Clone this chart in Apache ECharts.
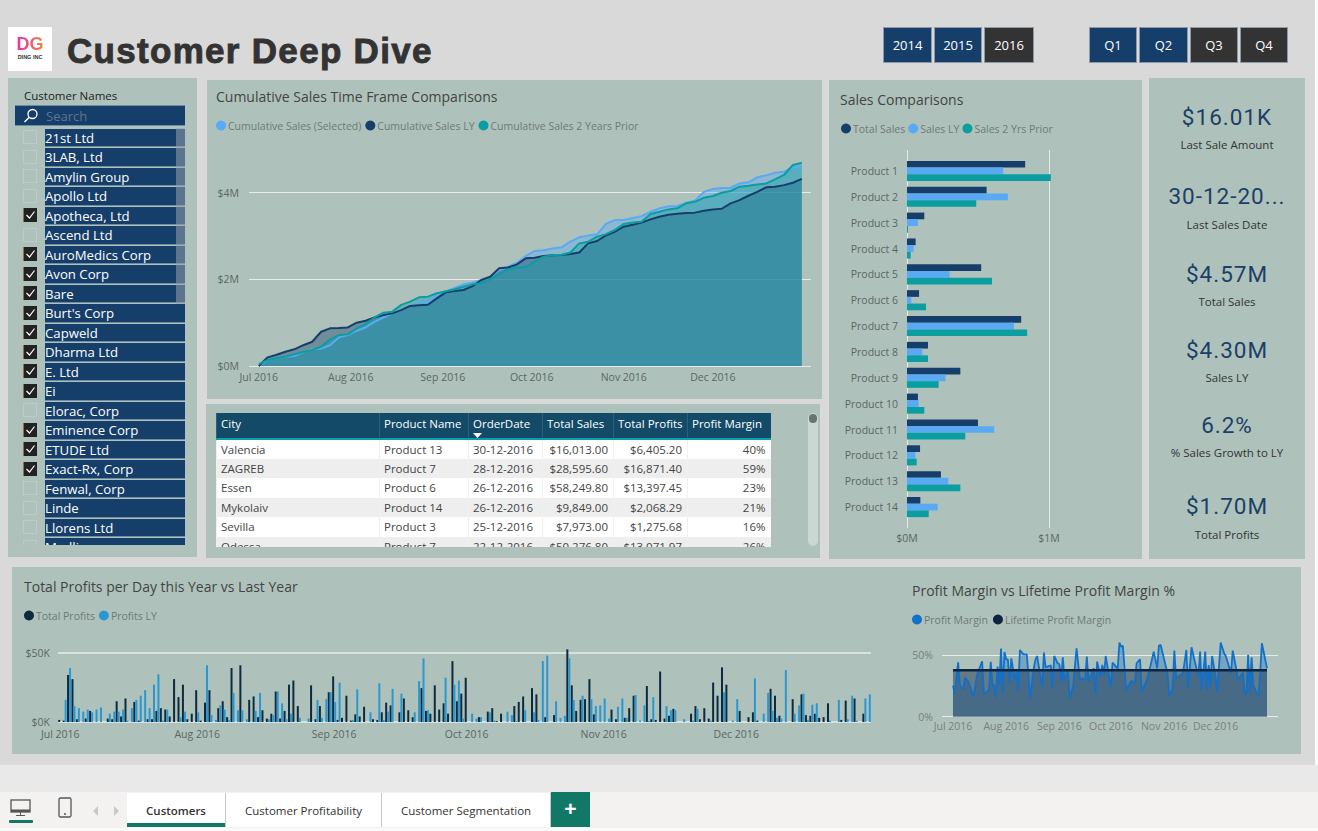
<!DOCTYPE html>
<html><head><meta charset="utf-8"><title>Customer Deep Dive</title>
<script src="https://cdn.jsdelivr.net/npm/echarts@6/dist/echarts.min.js"></script>
<style>
html,body{margin:0;padding:0;width:1318px;height:831px;overflow:hidden;background:#fafafa;font-family:"Open Sans",sans-serif}
.a{position:absolute;box-sizing:border-box}
.panel{background:#aec2bb}
.btn{color:#fff;font-size:13px;display:flex;align-items:center;justify-content:center;border:1px solid #8c9aa8;height:36px;top:27px}
.row{position:absolute;left:45px;width:140px;height:17.5px;background:#163e6b;color:#fff;font-size:13.2px;line-height:18px;padding-left:0;white-space:nowrap;border-bottom:1px solid #6f8ba0}
.cb{position:absolute;left:23px;width:14px;height:14px;box-sizing:border-box}
.cb.on{background:#222;border-left:1px solid #8a7350}
.cb.off{border:1px solid #bccbc6}
.kv{left:1149px;width:156px;text-align:center;color:#1c3f68;font-family:Roboto,sans-serif;font-size:22.5px;letter-spacing:1px;line-height:30px}
.kl{left:1149px;width:156px;text-align:center;color:#333;font-size:11.5px;line-height:16px}
table{border-collapse:collapse;table-layout:fixed;width:554px;font-size:11.5px;color:#444}
td,th{padding:0 5px 0 4px;height:19.5px;white-space:nowrap;overflow:hidden;box-sizing:border-box;border-left:1px solid #f0f0f0}
th{background:#134a68;color:#fff;font-weight:400;height:26px;border-bottom:2px solid #0e9ea5;border-left:1px solid #2c5f7a;text-align:left;padding-bottom:4px}
.tab{top:793px;height:34px;background:#fff;font-size:11.5px;color:#333;display:flex;align-items:center;justify-content:center;border-right:1px solid #c8c8c8}
</style></head><body>
<div class="a" style="left:0;top:0;width:1315px;height:765px;background:#d9d9d9"></div>
<div class="a" style="left:0;top:765px;width:1318px;height:27px;background:#e9e9e9"></div>
<div class="a" style="left:0;top:792px;width:1318px;height:36px;background:#f3f2f1"></div>

<div class="a" style="left:8px;top:27px;width:44px;height:44px;background:#fff;text-align:center">
 <div style="font:bold 18px/15px 'Liberation Sans';margin-top:10px;background:linear-gradient(90deg,#e815c8,#f0a020);-webkit-background-clip:text;background-clip:text;color:transparent">DG</div>
 <div style="font:bold 5.5px/7px 'Liberation Sans';color:#333;margin-top:2px;white-space:nowrap">DING INC</div>
</div>
<div class="a" style="left:67px;top:29px;font:bold 35px/44px 'Liberation Sans',Arial;color:#333;letter-spacing:1.3px;-webkit-text-stroke:.9px #333;white-space:nowrap">Customer Deep Dive</div>

<div id="buttons"></div>

<div class="a panel" style="left:8px;top:78px;width:189px;height:479px"></div>
<div class="a" style="left:24px;top:88px;font-size:11.5px;line-height:16px;color:#222">Customer Names</div>
<div class="a" style="left:15px;top:105px;width:170px;height:21px;background:#163e6b;border-top:1px solid #6f8ba0;border-bottom:1px solid #6f8ba0;color:#5f7590;font-size:13px;line-height:20px;padding-left:31px">Search
 <svg style="position:absolute;left:8px;top:2px" width="16" height="16" viewBox="0 0 16 16"><circle cx="9.5" cy="6" r="4.5" fill="none" stroke="#fff" stroke-width="1.3"/><line x1="6" y1="9.5" x2="1.5" y2="14" stroke="#fff" stroke-width="1.5"/></svg>
</div>
<div id="slicer" class="a" style="left:0;top:127px;width:197px;height:418px;overflow:hidden"></div>

<div id="chartCum" class="a" style="left:207px;top:80px;width:615px;height:319px"></div>

<div class="a panel" style="left:206px;top:404px;width:614px;height:154px"></div>
<div id="tableWrap" class="a" style="left:216px;top:413px;width:555px;height:134px;overflow:hidden;background:#fff"></div>
<div class="a" style="left:808px;top:413px;width:10px;height:133px;background:#c9d8d3;border-radius:5px"></div>
<div class="a" style="left:809px;top:414px;width:8px;height:9px;background:#68756f;border-radius:4px"></div>

<div id="chartSales" class="a" style="left:829px;top:80px;width:313px;height:479px"></div>

<div class="a panel" style="left:1149px;top:78px;width:156px;height:481px"></div>
<div id="kpis"></div>

<div class="a panel" style="left:12px;top:567px;width:1289px;height:187px"></div>
<div id="chartProfit" class="a" style="left:12px;top:567px;width:880px;height:187px"></div>
<div id="chartMargin" class="a" style="left:892px;top:567px;width:409px;height:187px"></div>

<svg class="a" style="left:9px;top:799px" width="24" height="18" viewBox="0 0 24 18"><rect x="2" y="1" width="19" height="12" fill="none" stroke="#555" stroke-width="1.3"/><rect x="2" y="10.5" width="19" height="2.5" fill="#555"/><line x1="11.5" y1="13" x2="11.5" y2="16" stroke="#555"/><line x1="7" y1="16.5" x2="16" y2="16.5" stroke="#555"/></svg>
<div class="a" style="left:9px;top:820px;width:24px;height:3px;background:#117865;border-radius:1px"></div>
<svg class="a" style="left:58px;top:797px" width="14" height="21" viewBox="0 0 14 21"><rect x="1" y="1" width="12" height="19" rx="1.5" fill="none" stroke="#555" stroke-width="1.3"/><circle cx="7" cy="17" r="1" fill="#555"/></svg>
<svg class="a" style="left:91px;top:805px" width="30" height="12" viewBox="0 0 30 12"><path d="M7 1 L2 6 L7 11Z M23 1 L28 6 L23 11Z" fill="#c8c8c8"/></svg>
<div id="tabs"></div>
<div class="a" style="left:127px;top:823px;width:98px;height:4px;background:#117865"></div>
<div class="a" style="left:551px;top:792px;width:39px;height:35px;background:#117865;color:#fff;font:bold 21px/33px 'Liberation Sans';text-align:center">+</div>

<script>
// ---------- text content ----------
const yearButtons = ['2014','2015','2016'];
const selectedYears = ['2016'];
const quarterButtons = ['Q1','Q2','Q3','Q4'];
const selectedQuarters = ['Q3','Q4'];
const customerNames = ['21st Ltd','3LAB, Ltd','Amylin Group','Apollo Ltd','Apotheca, Ltd','Ascend Ltd','AuroMedics Corp','Avon Corp','Bare',"Burt's Corp",'Capweld','Dharma Ltd','E. Ltd','Ei','Elorac, Corp','Eminence Corp','ETUDE Ltd','Exact-Rx, Corp','Fenwal, Corp','Linde','Llorens Ltd','Medline'];
const checkedCustomers = ['Apotheca, Ltd','AuroMedics Corp','Avon Corp','Bare',"Burt's Corp",'Capweld','Dharma Ltd','E. Ltd','Ei','Eminence Corp','ETUDE Ltd','Exact-Rx, Corp'];
const tableHeader = ['City','Product Name','OrderDate','Total Sales','Total Profits','Profit Margin'];
const tableRows = [
 ['Valencia','Product 13','30-12-2016','$16,013.00','$6,405.20','40%'],
 ['ZAGREB','Product 7','28-12-2016','$28,595.60','$16,871.40','59%'],
 ['Essen','Product 6','26-12-2016','$58,249.80','$13,397.45','23%'],
 ['Mykolaiv','Product 14','26-12-2016','$9,849.00','$2,068.29','21%'],
 ['Sevilla','Product 3','25-12-2016','$7,973.00','$1,275.68','16%'],
 ['Odessa','Product 7','22-12-2016','$50,276.80','$13,071.97','26%']
];
const kpiValues = ['$16.01K','30-12-20...','$4.57M','$4.30M','6.2%','$1.70M'];
const kpiLabels = ['Last Sale Amount','Last Sales Date','Total Sales','Sales LY','% Sales Growth to LY','Total Profits'];
const tabNames = ['Customers','Customer Profitability','Customer Segmentation'];
const monthLabels = ['Jul 2016','Aug 2016','Sep 2016','Oct 2016','Nov 2016','Dec 2016'];
const monthStartDays = [0,31,62,92,123,153];

// ---------- cumulative sales ($M), read every 3 days; day = offset from 1 Jul 2016 ----------
const cumDayOffsets = [0,3,6,9,12,15,18,21,24,27,30,33,36,39,42,45,48,51,54,57,60,63,66,69,72,75,78,81,84,87,90,93,96,99,102,105,108,111,114,117,120,123,126,129,132,135,138,141,144,147,150,153,156,159,162,165,168,171,174,177,180,183];
const cumSelected = [0,.14,.18,.215,.23,.32,.385,.40,.48,.66,.715,.815,.89,1.02,1.12,1.215,1.29,1.37,1.46,1.485,1.64,1.715,1.80,1.885,1.92,1.985,2.06,2.215,2.29,2.385,2.54,2.655,2.67,2.71,2.74,2.87,2.97,3.01,3.04,3.28,3.37,3.37,3.415,3.46,3.56,3.64,3.685,3.69,3.77,3.815,4.02,4.085,4.11,4.115,4.215,4.24,4.355,4.40,4.46,4.485,4.585,4.60];
const cumLY = [0,.20,.26,.33,.385,.48,.56,.79,.87,.875,.89,1.0,1.045,1.12,1.175,1.215,1.29,1.385,1.40,1.415,1.56,1.70,1.73,1.755,1.845,1.985,2.06,2.255,2.275,2.345,2.485,2.50,2.54,2.555,2.56,2.585,2.62,2.83,2.885,3.015,3.10,3.215,3.26,3.31,3.385,3.445,3.49,3.515,3.53,3.54,3.585,3.615,3.63,3.755,3.83,3.93,4.02,4.125,4.14,4.175,4.23,4.32];
const cum2Yrs = [.045,.14,.18,.22,.27,.33,.37,.445,.615,.715,.73,.87,.97,1.12,1.23,1.255,1.41,1.485,1.585,1.60,1.68,1.725,1.77,1.83,1.885,1.91,2.0,2.125,2.23,2.275,2.29,2.41,2.525,2.555,2.57,2.62,2.83,2.87,2.985,3.045,3.14,3.28,3.31,3.33,3.51,3.56,3.615,3.64,3.755,3.79,3.885,3.925,4.0,4.04,4.14,4.16,4.19,4.215,4.31,4.41,4.64,4.69];

// ---------- sales by product ($M) ----------
const products = ['Product 1','Product 2','Product 3','Product 4','Product 5','Product 6','Product 7','Product 8','Product 9','Product 10','Product 11','Product 12','Product 13','Product 14'];
const salesTotal = [.833,.561,.122,.061,.523,.085,.805,.148,.376,.077,.50,.092,.239,.094];
const salesLY = [.678,.711,.077,.047,.30,.03,.754,.108,.272,.082,.615,.059,.291,.216];
const sales2Yrs = [1.014,.488,.007,.026,.599,.134,.847,.148,.223,.122,.411,.068,.376,.153];

// ---------- profit per day ($K), one value per day from 1 Jul 2016 ----------
const profitThisYear = [
 1.5,1,34,31,2,0,2.5,8,0,0,
 0,2.5,2,15,4,17,0,14.5,1,0,
 2,2,8,10,9,4,31,18,27,2,
 6,23,1,14,23,0,10,15,3.5,39,
 0,41,0,16,18.5,3.5,8.5,2.5,6,22,
 2.5,8,27,30,11.5,0,0,26.5,2,11.5,
 0,21.5,33,1.5,3,19,1,5.5,4,11,
 0,2,1.5,7,14,12,0,7,17,8.5,
 3.5,0,24.5,8,6,26.5,9,13.5,6,44,
 15,20.5,32,0,0,3.5,0,7.5,10,.7,
 6,0,0,11.5,14.5,18.5,0,24.5,20,0,
 3.5,0,5,0,0,52.5,26.5,8,16,16.5,
 31,5.5,0,0,0,9,2,0,3,10,
 19,0,0,26,2,1.5,36.5,2.5,4.5,9.5,
 0,0,0,6,11.5,2,10,2.5,28.5,19,
 39.5,27,0,0,8,0,3.5,7,1,0,
 0,24,19,4.5,0,0,16.5,0,20,5,
 4.5,6,3,3.5,13.5,0,0,1.5,15.5,0,
 17,0,6,0];
const profitLastYear = [
 0,16,39,11.5,10,7.5,9,7,9,10.5,
 0,6,7.5,7.5,9,1,10,16,19,23,
 10,27,34.5,1,9,0,0,3.5,7.5,0,
 0,7,0,41,5,1.5,12,9,1.5,21,
 8.5,8.5,2,0,8,21,0,2,5,22,
 13.5,2,6,0,3,0,2.5,0,16,3,
 16.5,21.5,14.5,28.5,0,0,1.5,23.5,0,0,
 7,0,28,1.5,7.5,24,0,20.5,0,0,
 7,29.5,46,8.5,0,0,0,32,0,27,
 30,2.5,0,6,2.5,3.5,0,7,1,0,
 0,7.5,5,.7,0,8.5,0,7,1.5,44,
 48,0,15,3,4.5,46,16,0,19,0,
 16.5,11.5,12,17,2.5,0,11,17,3,0,
 19.5,1,12,.7,18,0,0,11.5,8.5,8.5,
 0,2,0,1,9.5,0,0,1,0,0,
 21.5,0,1,16.5,0,0,0,31.5,0,6,
 21,8,3,2.5,37.5,0,6,12,20.5,1.5,
 12.5,13.5,0,0,1,0,16,0,2,19,
 1,0,17,20];

// ---------- profit margin (%), days are offsets from 1 Jul 2016 ----------
const marginDays = [0,1,3,4,6,7,9,12,14,17,18,21,22,23,24,25,26,27,28,29,30,31,32,33,34,36,37,38,39,41,43,45,47,48,49,52,53,54,57,58,59,61,62,63,64,65,67,68,70,72,74,75,77,78,79,82,83,84,86,87,88,89,92,93,96,97,98,99,101,103,104,106,107,109,110,113,115,117,119,120,121,125,126,128,129,130,134,136,137,139,143,144,145,147,148,149,150,151,153,154,156,158,159,162,163,165,166,169,170,171,172,173,174,175,178,179,180,183];
const marginValues = [25.3,19,44.3,25.8,22.3,31.8,28.5,16.3,34,45.1,18.5,21.7,44.6,25.8,25.8,15.8,40.8,25.8,55.4,19,52.7,46.7,46.7,27.2,47.5,29.9,38,21.2,54.3,50.8,50.8,14.9,38.6,46.2,49.4,24.5,52.2,40.2,41.8,23.1,49.4,43.5,42.7,28.5,48.4,29.9,38,15.2,24.5,55.7,29.9,31.2,29.9,48.9,28.5,39.4,18.5,44.8,33.1,42.1,34,49.4,24.5,44,39.1,60.3,57,57.6,21.2,27.2,29.3,27.7,43.5,46.7,20.4,29.9,40.8,53,39.4,57.9,58.4,35.3,16.8,23.1,53.8,31.2,35.3,54.3,23.1,56.5,32.6,53,21.2,53,22.3,42.1,24.5,49.4,32.6,20.4,60.3,51.6,49.4,35.3,53.8,39.4,29.9,35.9,18.5,18.5,50.3,20.4,48.4,25.8,16.3,35.3,59.8,39.4];
const lifetimeDays = [0,183];
const lifetimeMargin = [37.8,37.8];

// ---------- static HTML parts ----------
const el = id => document.getElementById(id);
const btnHtml = (names, selected, lefts) => names.map((n,i) =>
 `<div class="a btn" style="left:${lefts[i]}px;width:${lefts[i+1]-lefts[i]-2}px;background:${selected.includes(n)?'#333':'#163e6b'}">${n}</div>`).join('');
el('buttons').innerHTML = btnHtml(yearButtons,selectedYears,[883,934,984,1036]) + btnHtml(quarterButtons,selectedQuarters,[1089,1139,1190,1240,1290]);

el('slicer').innerHTML = customerNames.map((n,i)=>{
 const top = 1.5 + i*19.5, on = checkedCustomers.includes(n);
 return `<div class="cb ${on?'on':'off'}" style="top:${top+1.5}px">${on?'<svg width="13" height="13" viewBox="0 0 13 13" style="display:block"><path d="M2.5 7 L5.5 10 L10.5 3.5" fill="none" stroke="#fff" stroke-width="1.2"/></svg>':''}</div><div class="row" style="top:${top}px">${n}</div>`;
}).join('') + '<div style="position:absolute;left:176px;top:1px;width:9px;height:176px;background:rgba(150,160,175,.55)"></div>';

const colWidths = [163,89,74,71,74,83];
const colAlign = ['left','left','left','right','right','right'];
let t = '<table><colgroup>'+colWidths.map(w=>`<col style="width:${w}px">`).join('')+'</colgroup><tr>'+
 tableHeader.map((h,i)=>`<th>${h}${i==2?'<svg style="position:absolute;left:257px;top:20px" width="9" height="5"><path d="M0 0H9L4.5 5Z" fill="#fff"/></svg>':''}</th>`).join('')+'</tr>';
tableRows.forEach((r,ri)=>{ t+='<tr style="background:'+(ri%2?'#eeeeee':'#fff')+'">'+r.map((c,i)=>`<td style="text-align:${colAlign[i]}">${c}</td>`).join('')+'</tr>'; });
el('tableWrap').innerHTML = t+'</table>';

const kpiValueY = [102,181,259,335,410,491];
const kpiLabelY = [137,217,294,370,445,527];
el('kpis').innerHTML = kpiValues.map((v,i)=>`<div class="a kv" style="top:${kpiValueY[i]}px">${v}</div><div class="a kl" style="top:${kpiLabelY[i]}px">${kpiLabels[i]}</div>`).join('');

const tabLefts=[127,226,382,551];
el('tabs').innerHTML = tabNames.map((n,i)=>`<div class="a tab" style="left:${tabLefts[i]}px;width:${tabLefts[i+1]-tabLefts[i]}px;${i==0?'font-weight:600;':''}">${n}</div>`).join('');

// ---------- charts ----------
const FONT = 'Open Sans';
const pair = (days, vals) => days.map((d,i)=>[d,vals[i]]);
const monthFormatter = v => monthLabels[monthStartDays.indexOf(v)];
const init = id => echarts.init(el(id),null,{renderer:'svg'});
const titleOpt = (text,left,top) => ({text,left,top,padding:0,textStyle:{fontFamily:FONT,fontSize:14,fontWeight:400,color:'#444'}});
const legendOpt = (left,top,gap) => ({left,top,icon:'circle',itemWidth:10,itemHeight:10,itemGap:gap,padding:0,textStyle:{fontFamily:FONT,fontSize:10.5,color:'#6f7a76',padding:[0,0,0,-3]}});
const GRIDC = '#e6ecea';
const lbl = (c='#5d6563',s=10.5) => ({fontFamily:FONT,fontSize:s,color:c});

const areaLine = (name,data,color,alpha,width=2) => ({name,type:'line',data,symbol:'none',showSymbol:false,color,lineStyle:{color,width},itemStyle:{color},areaStyle:{color,opacity:alpha}});

init('chartCum').setOption({
 animation:false,backgroundColor:'#aec2bb',
 title:titleOpt('Cumulative Sales Time Frame Comparisons',9,9),
 legend:legendOpt(9,40,4),
 grid:{left:42,right:11,top:69.4,bottom:33},
 xAxis:{type:'value',min:-3.3,max:186.1,axisLine:{show:false},axisTick:{show:false},splitLine:{show:false},
  axisLabel:Object.assign(lbl(),{customValues:monthStartDays,formatter:monthFormatter,margin:5,hideOverlap:false})},
 yAxis:{type:'value',min:0,max:5,axisLine:{show:false},axisTick:{show:false,customValues:[0,2,4]},
  splitLine:{show:true,lineStyle:{color:GRIDC,width:1}},
  axisLabel:Object.assign(lbl(),{customValues:[0,2,4],formatter:v=>'$'+v+'M',margin:10})},
 series:[
  areaLine('Cumulative Sales (Selected)',pair(cumDayOffsets,cumSelected),'#5aa9f5',.4),
  areaLine('Cumulative Sales LY',pair(cumDayOffsets,cumLY),'#163e6b',.4),
  areaLine('Cumulative Sales 2 Years Prior',pair(cumDayOffsets,cum2Yrs),'#0b9ea0',.4)
 ]
});

const bar = (name,data,color,extra={}) => Object.assign({name,type:'bar',data,color,itemStyle:{color}},extra);
init('chartSales').setOption({
 animation:false,backgroundColor:'#aec2bb',
 title:titleOpt('Sales Comparisons',11,12),
 legend:legendOpt(12,43,3),
 grid:[{left:78,width:227,top:78,height:362},{left:78,width:227,top:70,height:378}],
 xAxis:[
  {gridIndex:0,type:'value',min:0,max:1.6,show:false},
  {gridIndex:1,type:'value',min:0,max:1.6,axisLine:{show:false},axisTick:{show:false,customValues:[0,1]},
   splitLine:{show:true,lineStyle:{color:GRIDC,width:1}},
   axisLabel:Object.assign(lbl(),{customValues:[0,1],formatter:v=>'$'+v+'M',margin:4})}
 ],
 yAxis:[
  {gridIndex:0,type:'category',data:products,inverse:true,axisLine:{show:false},axisTick:{show:false},
   axisLabel:Object.assign(lbl('#5d6563',10.5),{margin:9,interval:0})},
  {gridIndex:1,type:'value',show:false,min:0,max:1}
 ],
 series:[
  bar('Total Sales',salesTotal,'#163e6b',{barWidth:6.7,barGap:'0%',z:3}),
  bar('Sales LY',salesLY,'#5aa9f5',{barWidth:6.7,barGap:'0%',z:3}),
  bar('Sales 2 Yrs Prior',sales2Yrs,'#0b9ea0',{barWidth:6.7,barGap:'0%',z:3})
 ]
});

const profitDays = profitThisYear.map((_,i)=>i);
init('chartProfit').setOption({
 animation:false,
 title:titleOpt('Total Profits per Day this Year vs Last Year',12,12),
 legend:legendOpt(12,43,4),
 grid:{left:46,width:813,top:72,height:83},
 xAxis:{type:'category',data:profitDays,axisLine:{show:false},axisTick:{show:false},splitLine:{show:false},
  axisLabel:Object.assign(lbl(),{interval:(i)=>monthStartDays.includes(i),formatter:(v)=>monthLabels[monthStartDays.indexOf(+v)],margin:6,hideOverlap:false})},
 yAxis:{type:'value',min:0,max:60,axisLine:{show:false},axisTick:{show:false,customValues:[0,50]},
  splitLine:{show:true,lineStyle:{color:GRIDC,width:1.5}},
  axisLabel:Object.assign(lbl(),{customValues:[0,50],formatter:v=>'$'+v+'K',margin:8})},
 series:[
  bar('Total Profits',profitThisYear,'#0d2b3e',{barWidth:2,barGap:'0%'}),
  bar('Profits LY',profitLastYear,'#2b97d0',{barWidth:2,barGap:'0%'})
 ]
});

init('chartMargin').setOption({
 animation:false,
 title:titleOpt('Profit Margin vs Lifetime Profit Margin %',20,16),
 legend:legendOpt(20,47,5),
 grid:{left:50,width:336,top:63.7,bottom:37.3},
 xAxis:{type:'value',min:-6.4,max:189.4,axisLine:{show:false},axisTick:{show:false},splitLine:{show:false},
  axisLabel:Object.assign(lbl('#7a7f7c',10.5),{customValues:monthStartDays,formatter:monthFormatter,margin:4,hideOverlap:false})},
 yAxis:{type:'value',min:0,max:70,axisLine:{show:false},axisTick:{show:false,customValues:[0,50]},
  splitLine:{show:true,lineStyle:{color:GRIDC,width:1}},
  axisLabel:Object.assign(lbl('#7a7f7c',10.5),{customValues:[0,50],formatter:v=>v+'%',margin:9})},
 series:[
  areaLine('Profit Margin',pair(marginDays,marginValues),'#1170c9',.35,1.8),
  areaLine('Lifetime Profit Margin',pair(lifetimeDays,lifetimeMargin),'#0d2440',.45,2.5)
 ]
});
</script>
</body></html>
